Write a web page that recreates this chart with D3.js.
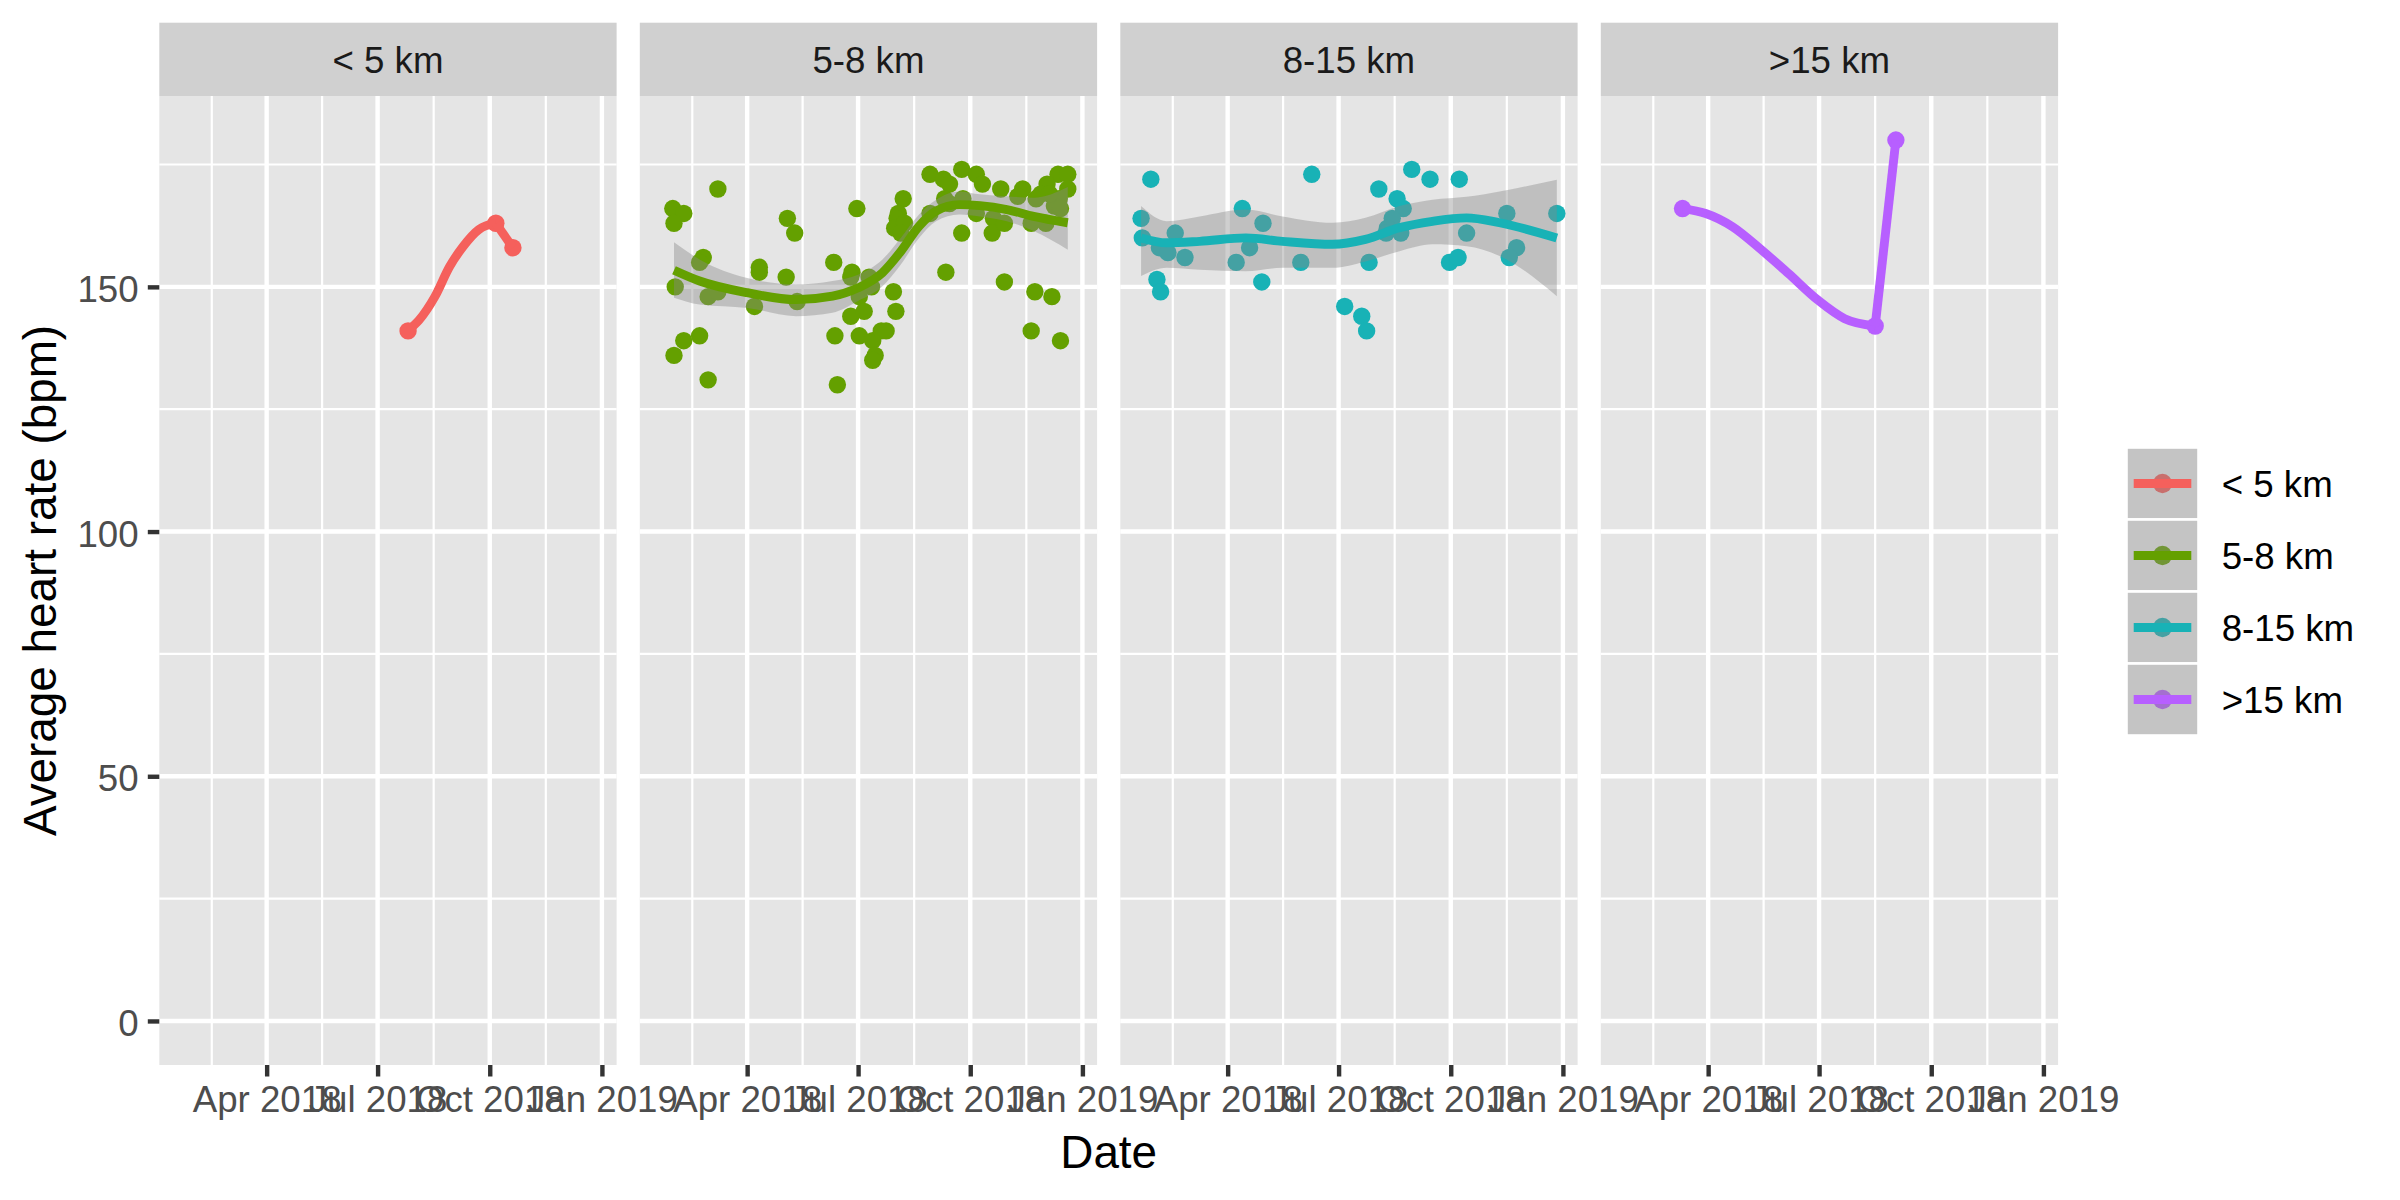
<!DOCTYPE html>
<html><head><meta charset="utf-8">
<script src="https://cdn.jsdelivr.net/npm/d3@7"></script>
<style>html,body{margin:0;padding:0;background:#fff;} svg{display:block;font-family:"Liberation Sans",Arial,Helvetica,sans-serif;}</style>
</head><body><svg id="chart" width="2400" height="1200"></svg>
<script>
// ---------------- data ----------------
const categories = ["< 5 km", "5-8 km", "8-15 km", ">15 km"];
const colors = ["#F5605C", "#64A000", "#18B2B6", "#B75FFF"];

// runs: [date, average heart rate]
const runsLt5 = [["2018-07-26",141],["2018-10-06",163],["2018-10-20",158]];
const runs5to8 = [
 ["2018-01-30",166],["2018-02-08",165],["2018-01-31",163],["2018-03-08",170],["2018-02-01",150],
 ["2018-02-24",156],["2018-02-21",155],["2018-02-28",148],["2018-03-08",149],["2018-02-08",139],
 ["2018-02-21",140],["2018-01-31",136],["2018-02-28",131],["2018-04-11",154],["2018-04-11",153],
 ["2018-04-07",146],["2018-05-04",164],["2018-05-10",161],["2018-05-03",152],["2018-05-12",147],
 ["2018-06-11",155],["2018-06-12",140],["2018-06-14",130],["2018-06-30",166],["2018-06-26",153],
 ["2018-06-25",152],["2018-07-10",152],["2018-07-12",150],["2018-07-02",148],["2018-06-25",144],
 ["2018-07-06",145],["2018-07-02",140],["2018-07-13",139],["2018-07-20",141],["2018-07-24",141],
 ["2018-07-15",136],["2018-07-13",135],["2018-07-30",149],["2018-08-01",145],["2018-08-07",168],
 ["2018-08-03",165],["2018-08-02",164],["2018-07-31",162],["2018-08-08",163],["2018-08-05",161],
 ["2018-08-29",173],["2018-09-09",172],["2018-09-14",171],["2018-09-24",174],["2018-10-06",173],
 ["2018-10-11",171],["2018-08-29",165],["2018-09-10",168],["2018-09-14",167],["2018-09-24",161],
 ["2018-09-11",153],["2018-09-25",168],["2018-10-06",165],["2018-10-26",170],["2018-10-20",164],
 ["2018-10-19",161],["2018-10-29",163],["2018-10-29",151],["2018-11-13",170],["2018-11-20",163],
 ["2018-11-23",149],["2018-12-07",148],["2018-11-20",141],["2018-12-14",139],["2018-12-02",163],
 ["2018-12-12",173],["2018-12-20",173],["2018-12-03",171],["2018-11-28",169],["2018-12-20",170],
 ["2018-12-13",168],["2018-12-09",166.5],["2018-11-09",168.5],["2018-11-24",168],["2018-12-05",169],
 ["2018-12-14",166]
];
const runs8to15 = [
 ["2018-01-28",172],["2018-01-20",164],["2018-01-21",160],["2018-02-02",151.5],["2018-02-05",149],
 ["2018-02-17",161],["2018-02-04",158],["2018-02-11",157],["2018-02-25",156],["2018-04-13",166],
 ["2018-04-30",163],["2018-04-19",158],["2018-04-08",155],["2018-04-29",151],["2018-06-09",173],
 ["2018-05-31",155],["2018-07-06",146],["2018-07-20",144],["2018-07-24",141],["2018-07-26",155],
 ["2018-08-03",170],["2018-08-18",168],["2018-08-23",166],["2018-08-14",164],["2018-08-10",162],
 ["2018-08-09",161],["2018-08-21",161],["2018-08-30",174],["2018-09-14",172],["2018-10-08",172],
 ["2018-10-14",161],["2018-09-30",155],["2018-10-07",156],["2018-11-16",165],["2018-11-24",158],
 ["2018-11-18",156],["2018-12-27",165]
];
const runsGt15 = [["2018-03-11",166],["2018-08-16",142],["2018-09-02",180]];

// smoothed trend: [date, fit, lower, upper, segment]
const smoothLt5 = [
 ["2018-07-26",141.1,null,null,0],["2018-08-04",143.2,null,null,0],["2018-08-17",148.0,null,null,0],
 ["2018-08-29",154.1,null,null,0],["2018-09-09",158.2,null,null,0],["2018-09-22",161.7,null,null,0],
 ["2018-10-06",163.0,null,null,0],["2018-10-06",163.0,null,null,1],["2018-10-20",158.0,null,null,1]
];
const smooth5to8 = [
 ["2018-01-31",153.4,147.8,159.1,0],["2018-02-21",151.2,146.4,155.6,0],["2018-04-01",148.8,145.7,151.8,0],
 ["2018-05-11",147.4,144.0,150.5,0],["2018-06-10",148.1,144.7,151.2,0],["2018-07-01",149.8,147.1,152.5,0],
 ["2018-07-21",152.9,150.1,155.6,0],["2018-08-04",156.9,154.2,159.7,0],["2018-08-20",162.4,160.0,164.8,0],
 ["2018-09-03",165.5,163.4,167.8,0],["2018-09-22",166.8,164.8,169.5,0],["2018-10-09",166.6,164.4,168.9,0],
 ["2018-10-31",165.8,163.4,168.5,0],["2018-11-22",164.4,161.4,168.2,0],["2018-12-20",163.1,157.6,170.4,0]
];
const smooth8to15 = [
 ["2018-01-20",160.0,152.2,166.5,0],["2018-02-10",159.0,153.9,163.4,0],["2018-03-09",159.3,153.5,164.4,0],
 ["2018-04-16",160.0,153.2,165.8,0],["2018-05-16",159.3,153.9,164.4,0],["2018-06-26",158.7,153.9,163.1,0],
 ["2018-07-23",159.7,155.2,164.1,0],["2018-08-20",162.1,157.3,166.5,0],["2018-09-16",163.4,158.7,167.8,0],
 ["2018-10-14",164.1,158.3,168.4,0],["2018-11-10",163.1,156.3,169.5,0],["2018-12-27",160.0,148.1,171.9,0]
];
const smoothGt15 = [
 ["2018-03-11",166.0,null,null,0],["2018-03-30",165.0,null,null,0],["2018-04-21",162.3,null,null,0],
 ["2018-05-15",157.5,null,null,0],["2018-06-06",152.7,null,null,0],["2018-06-30",147.3,null,null,0],
 ["2018-07-22",143.5,null,null,0],["2018-08-16",142.0,null,null,0],
 ["2018-08-16",142.0,null,null,1],["2018-09-02",180.0,null,null,1]
];

const xTickDates = ["2018-01-01","2018-04-01","2018-07-01","2018-10-01","2019-01-01"];
const yTicks = [0, 50, 100, 150];
const yMinorTicks = [25, 75, 125, 175];
const xTitle = "Date";
const yTitle = "Average heart rate (bpm)";

// ---------------- layout / style ----------------
const PT = 96, PH = 969, PL = 159.3, PSTEP = 480.5, PW = 457.3, STRIP_H = 73.3;
const PTPX = 300 / 72; // 1pt in px
const FS = 8.8 * PTPX, FT = 11 * PTPX;
const GRID_MAJ = 4.4, GRID_MIN = 2.2, LW = 8.9, PR = 8.7;
const PANEL_BG = "#E5E5E5", STRIP_BG = "#D0D0D0", KEY_BG = "#EDEDED", BAND = "#888888";

const parse = d3.utcParse("%Y-%m-%d");
const fmt = d3.utcFormat("%b %Y");
const pointSets = [runsLt5, runs5to8, runs8to15, runsGt15];
const smoothSets = [smoothLt5, smooth5to8, smooth8to15, smoothGt15];

const groups = categories.map((c, i) => ({
  name: c, color: colors[i],
  points: pointSets[i].map(d => ({date: parse(d[0]), hr: d[1]})),
  smooth: smoothSets[i].map(d => ({date: parse(d[0]), fit: d[1], lo: d[2], hi: d[3], seg: d[4]}))
}));
const allPts = groups.flatMap(g => g.points);
const [dMin, dMax] = d3.extent(allPts, d => d.date);
const span = dMax - dMin;
const x = d3.scaleUtc().domain([new Date(+dMin - 0.05 * span), new Date(+dMax + 0.05 * span)]).range([0, PW]);
const yLo = Math.min(0, d3.min(allPts, d => d.hr)), yHi = d3.max(allPts, d => d.hr);
const yr = yHi - yLo;
const y = d3.scaleLinear().domain([yLo - 0.05 * yr, yHi + 0.05 * yr]).range([PH, 0]);

const xMajor = xTickDates.map(parse);
const xMinor = [];
for (let i = 0; i < xMajor.length - 1; i++) xMinor.push(new Date((+xMajor[i] + +xMajor[i + 1]) / 2));
const [xd0, xd1] = x.domain();
const inX = d => d >= xd0 && d <= xd1;
const [yd0, yd1] = y.domain();
const inY = v => v >= yd0 && v <= yd1;

const svg = d3.select("#chart");
const defs = svg.append("defs");
defs.append("clipPath").attr("id", "pclip").append("rect").attr("width", PW).attr("height", PH);

groups.forEach((g, i) => {
  const p = svg.append("g").attr("transform", `translate(${PL + i * PSTEP},${PT})`);
  p.append("rect").attr("width", PW).attr("height", PH).attr("fill", PANEL_BG);
  // minor grid
  p.selectAll(".ymin").data(yMinorTicks.filter(inY)).join("line")
    .attr("x1", 0).attr("x2", PW).attr("y1", d => y(d)).attr("y2", d => y(d))
    .attr("stroke", "#fff").attr("stroke-width", GRID_MIN);
  p.selectAll(".xmin").data(xMinor.filter(inX)).join("line")
    .attr("y1", 0).attr("y2", PH).attr("x1", d => x(d)).attr("x2", d => x(d))
    .attr("stroke", "#fff").attr("stroke-width", GRID_MIN);
  // major grid
  p.selectAll(".ymaj").data(yTicks.filter(inY)).join("line")
    .attr("x1", 0).attr("x2", PW).attr("y1", d => y(d)).attr("y2", d => y(d))
    .attr("stroke", "#fff").attr("stroke-width", GRID_MAJ);
  p.selectAll(".xmaj").data(xMajor.filter(inX)).join("line")
    .attr("y1", 0).attr("y2", PH).attr("x1", d => x(d)).attr("x2", d => x(d))
    .attr("stroke", "#fff").attr("stroke-width", GRID_MAJ);

  const data = p.append("g").attr("clip-path", "url(#pclip)");
  data.selectAll("circle").data(g.points).join("circle")
    .attr("cx", d => x(d.date)).attr("cy", d => y(d.hr)).attr("r", PR).attr("fill", g.color);
  const band = g.smooth.filter(d => d.lo != null);
  if (band.length) {
    data.append("path").datum(band)
      .attr("d", d3.area().x(d => x(d.date)).y0(d => y(d.lo)).y1(d => y(d.hi)).curve(d3.curveMonotoneX))
      .attr("fill", BAND).attr("fill-opacity", 0.4);
  }
  const segs = d3.groups(g.smooth, d => d.seg);
  segs.forEach(([k, pts]) => {
    data.append("path").datum(pts)
      .attr("d", d3.line().x(d => x(d.date)).y(d => y(d.fit)).curve(d3.curveMonotoneX))
      .attr("fill", "none").attr("stroke", g.color).attr("stroke-width", LW);
  });

  // strip
  p.append("rect").attr("y", -STRIP_H).attr("width", PW).attr("height", STRIP_H).attr("fill", STRIP_BG);
  p.append("text").attr("x", PW / 2).attr("y", -STRIP_H / 2).attr("dy", "0.36em")
    .attr("text-anchor", "middle").attr("font-size", FS).attr("fill", "#1A1A1A").text(g.name);

  // x axis
  const xa = p.append("g").attr("transform", `translate(0,${PH})`)
    .call(d3.axisBottom(x).tickValues(xMajor.filter(inX)).tickFormat(fmt).tickSize(11.5).tickPadding(9.2));
  xa.select(".domain").remove();
  xa.selectAll(".tick line").attr("stroke", "#333333").attr("stroke-width", GRID_MAJ);
  xa.selectAll(".tick text").attr("fill", "#4D4D4D").attr("font-size", FS)
    .attr("font-family", "'Liberation Sans',Arial,sans-serif");

  if (i === 0) {
    const ya = p.append("g")
      .call(d3.axisLeft(y).tickValues(yTicks.filter(inY)).tickFormat(d3.format("d")).tickSize(11.5).tickPadding(9.2));
    ya.select(".domain").remove();
    ya.selectAll(".tick line").attr("stroke", "#333333").attr("stroke-width", GRID_MAJ);
    ya.selectAll(".tick text").attr("fill", "#4D4D4D").attr("font-size", FS).attr("dy", "0.4em")
      .attr("font-family", "'Liberation Sans',Arial,sans-serif");
  }
});

// axis titles
const plotsLeft = PL, plotsRight = PL + 3 * PSTEP + PW;
svg.append("text").attr("x", (plotsLeft + plotsRight) / 2).attr("y", 1167.7)
  .attr("text-anchor", "middle").attr("font-size", FT).attr("fill", "#000").text(xTitle);
svg.append("text").attr("transform", `translate(56,${PT + PH / 2}) rotate(-90)`)
  .attr("text-anchor", "middle").attr("font-size", FT).attr("fill", "#000").text(yTitle);

// legend
const KX = 2126.5, KY = 447.5, KS = 72;
const leg = svg.append("g").attr("transform", `translate(${KX},${KY})`);
groups.forEach((g, i) => {
  const k = leg.append("g").attr("transform", `translate(0,${i * KS})`);
  k.append("rect").attr("width", KS).attr("height", KS).attr("fill", KEY_BG);
  k.append("circle").attr("cx", KS / 2).attr("cy", KS / 2).attr("r", PR + 1).attr("fill", g.color);
  k.append("rect").attr("width", KS).attr("height", KS).attr("fill", BAND).attr("fill-opacity", 0.4);
  k.append("line").attr("x1", KS * 0.1).attr("x2", KS * 0.9).attr("y1", KS / 2).attr("y2", KS / 2)
    .attr("stroke", g.color).attr("stroke-width", LW);
  k.append("rect").attr("width", KS).attr("height", KS).attr("fill", "none")
    .attr("stroke", "#fff").attr("stroke-width", 2.6);
  k.append("text").attr("x", 2221.7 - KX).attr("y", KS / 2).attr("dy", "0.36em")
    .attr("font-size", FS).attr("fill", "#000").text(g.name);
});
</script></body></html>
